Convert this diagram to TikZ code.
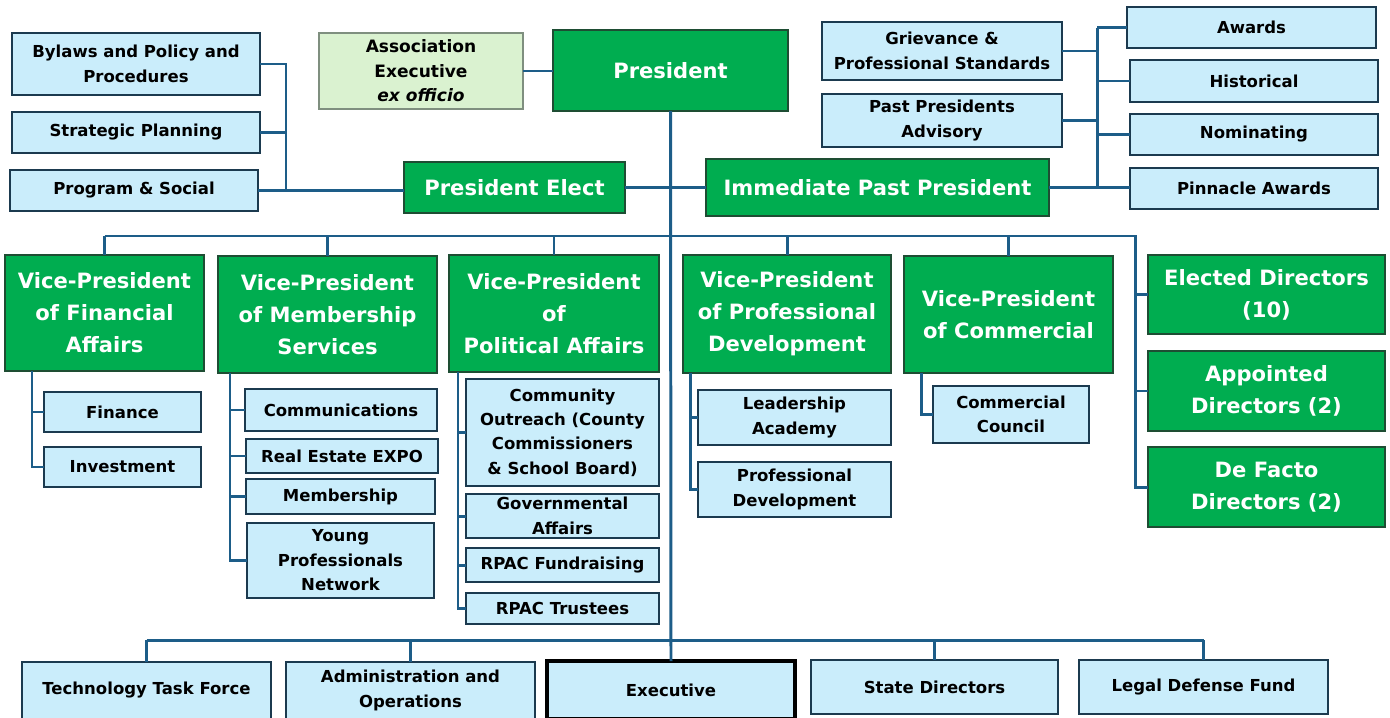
\documentclass[tikz,border=0pt]{standalone}
\usepackage{fontspec}
\setmainfont{DejaVu Sans}
\definecolor{subfill}{HTML}{CAEDFB}
\definecolor{subline}{HTML}{1B3A4F}
\definecolor{leadgreen}{HTML}{00AD50}
\definecolor{leadline}{HTML}{1E4D33}
\definecolor{assocfill}{HTML}{DAF2D0}
\definecolor{assocline}{HTML}{7F8F7F}
\definecolor{connblue}{HTML}{1D5D88}
% \orgbox{style}{name}{x1}{y1}{x2}{y2}{text}: box given by its corners
\newcommand\orgbox[7]{%
  \pgfmathsetmacro\cxv{(#3+#5)/2}\pgfmathsetmacro\cyv{(#4+#6)/2}%
  \pgfmathsetmacro\wv{(#5-#3)*0.02}\pgfmathsetmacro\hv{(#6-#4)*0.02}%
  \node[#1, minimum width=\wv cm, minimum height=\hv cm] (#2) at (\cxv,\cyv) {#7};}
\begin{document}
\begin{tikzpicture}[x=0.02cm,y=-0.02cm,
  base/.style={draw, inner sep=0pt, outer sep=0pt, align=center,
    font=\bfseries\fontsize{9.4}{13.9}\selectfont},
  sub/.style={base, fill=subfill, draw=subline, line width=1.1pt, text=black},
  lead/.style={base, fill=leadgreen, draw=leadline, line width=1.1pt, text=white,
    font=\bfseries\fontsize{12}{18.2}\selectfont},
  assoc/.style={base, fill=assocfill, draw=assocline, line width=0.8pt,
    font=\bfseries\fontsize{9.7}{14}\selectfont},
  execbox/.style={sub, draw=black, line width=2pt},
  conn/.style={draw=connblue, line width=1.7pt}]
\useasboundingbox[fill=white] (0,0) rectangle (1390,717);

% top tier
\orgbox{sub}{bylaws}{12}{33}{260}{95}{Bylaws and Policy and\\Procedures}
\orgbox{sub}{strat}{12}{112}{260}{153}{Strategic Planning}
\orgbox{sub}{progsoc}{10}{170}{258}{211}{Program \& Social}
\orgbox{assoc}{assoc}{319}{33}{523}{109}{Association\\Executive\\\textit{ex officio}}
\orgbox{lead}{pres}{553}{30}{788}{111}{President}
\orgbox{lead}{pelect}{404}{162}{625}{213}{President Elect}
\orgbox{lead}{ipp}{706}{159}{1049}{216}{Immediate Past President}
\orgbox{sub}{grv}{822}{22}{1062}{80}{Grievance \&\\Professional Standards}
\orgbox{sub}{ppa}{822}{94}{1062}{147}{Past Presidents\\Advisory}
\orgbox{sub}{awards}{1127}{7}{1376}{48}{Awards}
\orgbox{sub}{hist}{1130}{60}{1378}{102}{Historical}
\orgbox{sub}{nom}{1130}{114}{1378}{155}{Nominating}
\orgbox{sub}{pinn}{1130}{168}{1378}{209}{Pinnacle Awards}

% vice-presidents and directors
\orgbox{lead}{vpfin}{5}{255}{204}{371}{Vice-President\\of Financial\\Affairs}
\orgbox{lead}{vpmem}{218}{256}{437}{373}{Vice-President\\of Membership\\Services}
\orgbox{lead}{vppol}{449}{255}{659}{372}{Vice-President\\of\\Political Affairs}
\orgbox{lead}{vpprof}{683}{255}{891}{373}{Vice-President\\of Professional\\Development}
\orgbox{lead}{vpcom}{904}{256}{1113}{373}{Vice-President\\of Commercial}
\orgbox{lead}{elected}{1148}{255}{1385}{334}{Elected Directors\\(10)}
\orgbox{lead}{appointed}{1148}{351}{1385}{431}{Appointed\\Directors (2)}
\orgbox{lead}{defacto}{1148}{447}{1385}{527}{De Facto\\Directors (2)}

% committees
\orgbox{sub}{finance}{44}{392}{201}{432}{Finance}
\orgbox{sub}{invest}{44}{447}{201}{487}{Investment}
\orgbox{sub}{comms}{245}{389}{437}{431}{Communications}
\orgbox{sub}{expo}{246}{439}{438}{473}{Real Estate EXPO}
\orgbox{sub}{membership}{246}{479}{435}{514}{Membership}
\orgbox{sub}{ypn}{247}{523}{434}{598}{Young\\Professionals\\Network}
\orgbox{sub}{outreach}{466}{379}{659}{486}{Community\\Outreach (County\\Commissioners\\\& School Board)}
\orgbox{sub}{gov}{466}{494}{659}{538}{Governmental\\Affairs}
\orgbox{sub}{rpacf}{466}{548}{659}{582}{RPAC Fundraising}
\orgbox{sub}{rpact}{466}{593}{659}{624}{RPAC Trustees}
\orgbox{sub}{leader}{698}{390}{891}{445}{Leadership\\Academy}
\orgbox{sub}{profdev}{698}{462}{891}{517}{Professional\\Development}
\orgbox{sub}{council}{933}{386}{1089}{443}{Commercial\\Council}

% bottom tier
\orgbox{sub}{tech}{22}{662}{271}{719}{Technology Task Force}
\orgbox{sub}{admin}{286}{662}{535}{719}{Administration and\\Operations}
\orgbox{execbox}{exec}{547}{661}{795}{719}{Executive}
\orgbox{sub}{state}{811}{660}{1058}{714}{State Directors}
\orgbox{sub}{legal}{1079}{660}{1328}{714}{Legal Defense Fund}

% spine positions and bus levels
\coordinate (lsp) at (286,0);
\coordinate (rsp) at (1097,0);
\coordinate (dsp) at (1135,0);
\coordinate (vbus) at (0,236);
\coordinate (bbus) at (0,640);
\coordinate (fsp) at (32,0);
\coordinate (msp) at (230,0);
\coordinate (psp) at (458,0);
\coordinate (dvsp) at (690,0);
\coordinate (csp) at (921,0);

% left committees to President Elect
\draw[conn] (bylaws.east) -| (lsp |- progsoc.east);
\draw[conn] (strat.east) -- (strat.east -| lsp);
\draw[conn] (progsoc.east) -- (progsoc.east -| pelect.west);

% president links
\draw[conn] (assoc.east) -- (assoc.east -| pres.west);
\draw[conn] (pres.south) -- (exec.north);
\draw[conn] (pelect.east) -- (pelect.east -| ipp.west);

% right committees to Immediate Past President
\draw[conn] (awards.west -| rsp) -- (pinn.west -| rsp);
\foreach \n in {awards,hist,nom}
  \draw[conn] (\n.west) -- (\n.west -| rsp);
\draw[conn] (ipp.east) -- (ipp.east -| pinn.west);
\draw[conn] (grv.east) -- (grv.east -| rsp);
\draw[conn] (ppa.east) -- (ppa.east -| rsp);

% vice-president bus and directors
\draw[conn] (vpfin.north |- vbus) -- (dsp |- vbus) -- (dsp |- defacto.west) -- (defacto.west);
\foreach \n in {vpfin,vpmem,vppol,vpprof,vpcom}
  \draw[conn] (\n.north |- vbus) -- (\n.north);
\draw[conn] (elected.west -| dsp) -- (elected.west);
\draw[conn] (appointed.west -| dsp) -- (appointed.west);

% committee spines
\draw[conn] (fsp |- vpfin.south) |- (invest.west);
\draw[conn] (finance.west -| fsp) -- (finance.west);
\draw[conn] (msp |- vpmem.south) |- (ypn.west);
\foreach \n in {comms,expo,membership}
  \draw[conn] (\n.west -| msp) -- (\n.west);
\draw[conn] (psp |- vppol.south) |- (rpact.west);
\foreach \n in {outreach,gov,rpacf}
  \draw[conn] (\n.west -| psp) -- (\n.west);
\draw[conn] (dvsp |- vpprof.south) |- (profdev.west);
\draw[conn] (leader.west -| dvsp) -- (leader.west);
\draw[conn] (csp |- vpcom.south) |- (council.west);

% bottom bus
\draw[conn] (tech.north |- bbus) -- (legal.north |- bbus);
\foreach \n in {tech,admin,state,legal}
  \draw[conn] (\n.north |- bbus) -- (\n.north);
\end{tikzpicture}
\end{document}
